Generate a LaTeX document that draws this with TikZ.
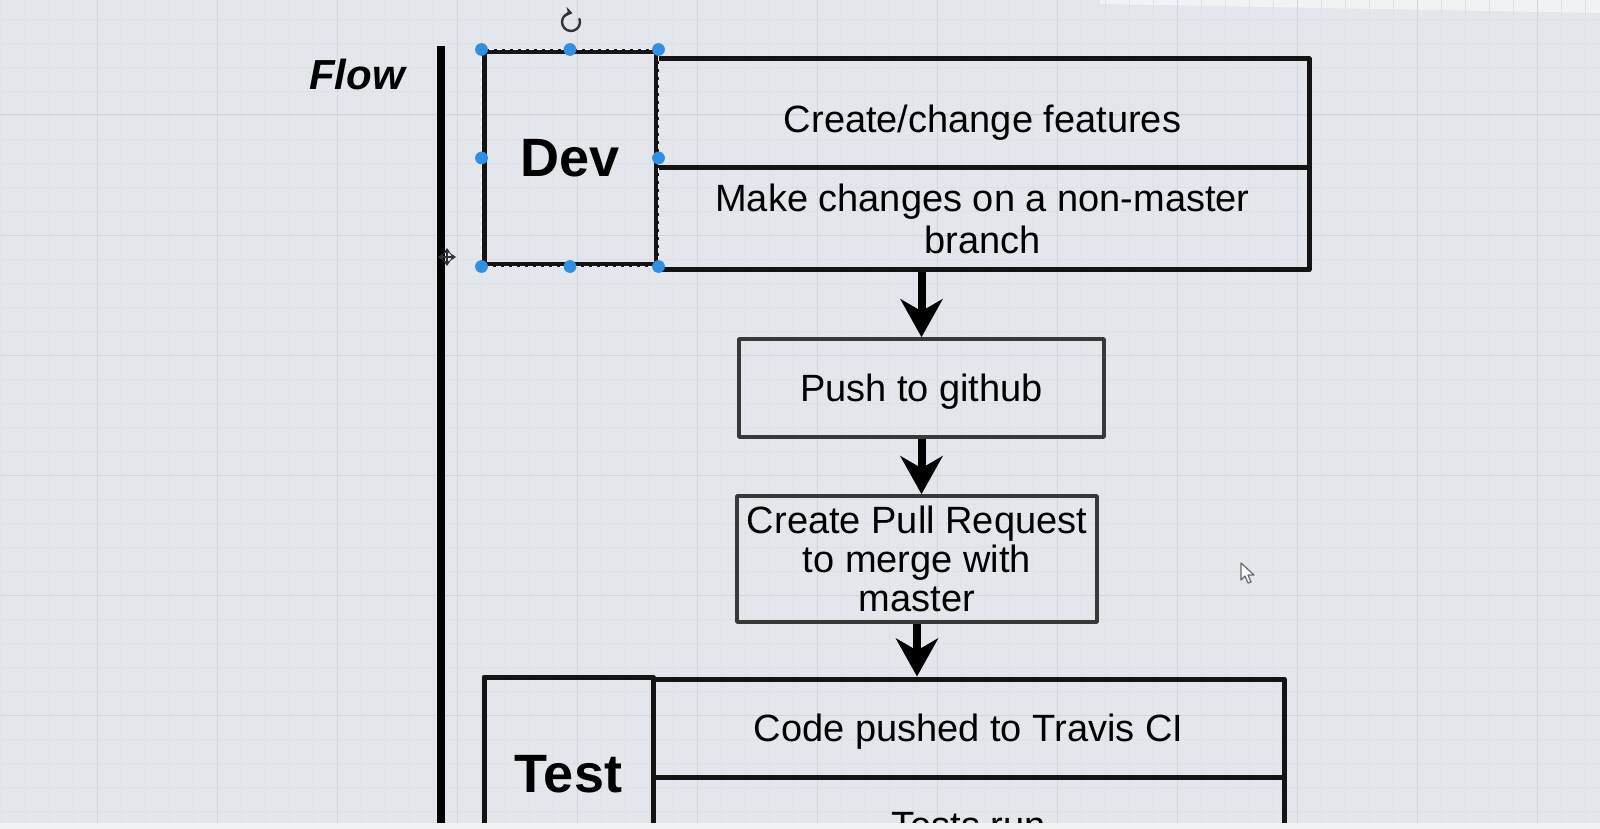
\documentclass[tikz,border=0pt]{standalone}
\usepackage{fontspec}
\setmainfont{Liberation Sans}
\usetikzlibrary{arrows.meta}
\definecolor{screen}{HTML}{E3E6EB}
\definecolor{edge}{HTML}{F1F2F4}
\definecolor{gridminor}{HTML}{DDE0E5}
\definecolor{gridmajor}{HTML}{D2D5DB}
\definecolor{handle}{HTML}{2F8FE3}
\begin{document}
\begin{tikzpicture}[line cap=round,line join=round,>={Stealth[length=19pt,width=21pt,inset=6pt]},x=0.5pt,y=-0.5pt,
  box/.style={draw=black!92,line width=2.5pt,inner sep=0pt,align=center,text depth=0pt,font=\fontsize{19}{21}\selectfont},
  tagbox/.style={box,font=\fontsize{27}{30}\selectfont\bfseries},
  stepbox/.style={draw=black!78,line width=1.8pt,inner sep=0pt,align=center,text depth=0pt,font=\fontsize{19}{19.5}\selectfont},
  flowarrow/.style={->,line width=4pt,line cap=butt,black}]
\useasboundingbox (0,0) rectangle (1600,829);
\clip (0,0) rectangle (1600,829);
\fill[screen] (0,0) rectangle (1600,829);
\fill[edge] (1100,0) -- (1600,0) -- (1600,13) -- (1100,4) -- cycle;
\foreach \x in {1,25,...,1600}
\draw[gridminor,line width=0.35pt] (\x,0) -- (\x,823);
\foreach \y in {19,43,...,823}
\draw[gridminor,line width=0.35pt] (0,\y) -- (1600,\y);
\foreach \x in {97,217,...,1600}
\draw[gridmajor,line width=0.5pt] (\x,0) -- (\x,823);
\foreach \y in {115,235,...,823}
\draw[gridmajor,line width=0.5pt] (0,\y) -- (1600,\y);
\node[font=\fontsize{21}{24}\selectfont\bfseries\itshape] (flow) at (357,74) {Flow};
\draw[line width=4pt,line cap=butt] (441,46) -- (441,823);
\node[tagbox,minimum width=86pt,minimum height=106pt] (dev) at (570,158) {Dev};
\node[box,minimum width=326.5pt,minimum height=54pt,text height=20pt] (deva) at (982.5,113) {Create/change features};
\node[box,minimum width=326.5pt,minimum height=51pt] (devb) at (982.5,218.5) {Make changes on a non-master\\branch};
\node[stepbox,minimum width=182.5pt,minimum height=49pt] (push) at (921.5,388) {Push to github};
\node[stepbox,minimum width=180pt,minimum height=63pt] (pr) at (917,559) {Create Pull Request\\to merge with\\master};
\node[tagbox,minimum width=84.5pt,minimum height=97pt] (test) at (568.5,774) {Test};
\node[box,minimum width=315.5pt,minimum height=49pt] (testa) at (968.5,728) {Code pushed to Travis CI};
\node[box,minimum width=315.5pt,minimum height=48pt] (testb) at (968.5,825) {Tests run};
\fill[edge] (0,823) rectangle (1600,829);
\draw[flowarrow] (push.north |- devb.south) -- (push.north);
\draw[flowarrow] (push.south) -- (push.south |- pr.north);
\draw[flowarrow] (pr.south) -- (pr.south |- testa.north);
\draw[white,line width=0.6pt,dash pattern=on 2pt off 2pt] (dev.north west) rectangle (dev.south east);
\foreach \a in {north west,north,north east,west,east,south west,south,south east}
\fill[handle] (dev.\a) circle (3.2pt);
\draw[black!80,line width=1.2pt,-{Stealth[length=3.5pt,width=5pt]}] (571,22) ++(-20:9) arc (-20:280:9);
\draw[black!80,line width=0.8pt,{Stealth[length=3pt,width=4pt]}-{Stealth[length=3pt,width=4pt]}] (438,257) -- (456,257);
\draw[black!80,line width=0.8pt,{Stealth[length=3pt,width=4pt]}-{Stealth[length=3pt,width=4pt]}] (447,248) -- (447,266);
\filldraw[fill=white,draw=black!60,line width=0.6pt] (1241,563) -- (1241,580) -- (1245,576) -- (1248,583) -- (1251,582) -- (1248,575) -- (1254,575) -- cycle;
\end{tikzpicture}
\end{document}
